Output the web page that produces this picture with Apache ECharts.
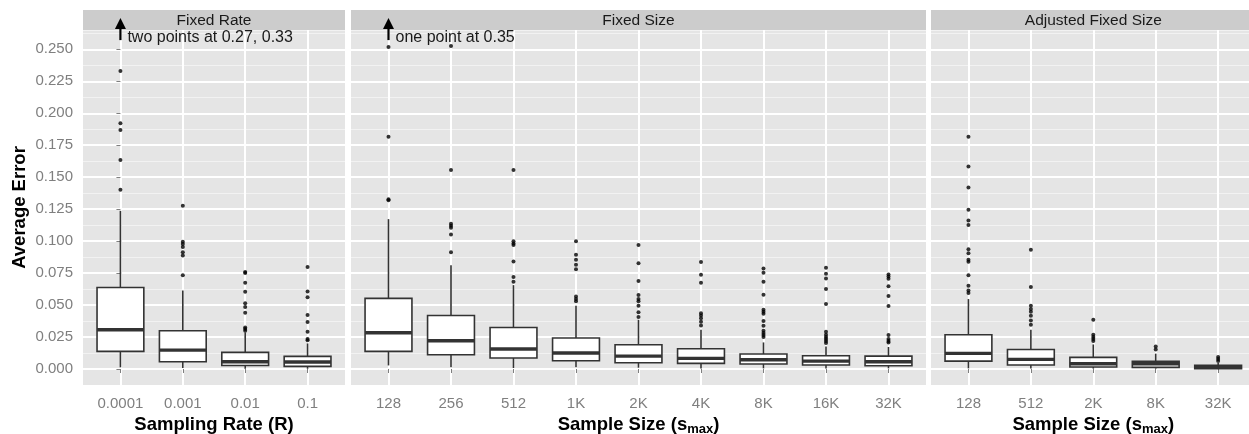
<!DOCTYPE html>
<html>
<head>
<meta charset="utf-8">
<script src="https://cdn.jsdelivr.net/npm/echarts@6/dist/echarts.min.js"></script>
<style>
  html, body { margin: 0; padding: 0; background: #fff; }
  #chart { width: 1249px; height: 434px; }
</style>
</head>
<body>
<div id="chart"></div>
<script>
// facet titles and categories
const panelTitles = ["Fixed Rate", "Fixed Size", "Adjusted Fixed Size"];
const rateCats = ["0.0001", "0.001", "0.01", "0.1"];
const sizeCats = ["128", "256", "512", "1K", "2K", "4K", "8K", "16K", "32K"];
const adjCats = ["128", "512", "2K", "8K", "32K"];
const yTicks = [0, 0.025, 0.05, 0.075, 0.1, 0.125, 0.15, 0.175, 0.2, 0.225, 0.25];

// boxes: [lower whisker, Q1, median, Q3, upper whisker]
const rateBoxes = [
  [0.0013, 0.0138, 0.0307, 0.0638, 0.1237],
  [0.0008, 0.0057, 0.0148, 0.0299, 0.0614],
  [0.0002, 0.0028, 0.0057, 0.0130, 0.0285],
  [0.0002, 0.0021, 0.0055, 0.0099, 0.0200],
];
const rateOutliers = [
  [0.2330, 0.1922, 0.1870, 0.1635, 0.1401, 0.27, 0.33],
  [0.1276, 0.0995, 0.0977, 0.0955, 0.0914, 0.0888, 0.0734],
  [0.0758, 0.0750, 0.0674, 0.0604, 0.0515, 0.0484, 0.0440, 0.0325, 0.0312, 0.0299],
  [0.0797, 0.0606, 0.0562, 0.0422, 0.0367, 0.0291, 0.0234, 0.0224],
];

const sizeBoxes = [
  [0.0028, 0.0138, 0.0284, 0.0552, 0.1172],
  [0.0013, 0.0112, 0.0221, 0.0419, 0.0812],
  [0.0008, 0.0086, 0.0156, 0.0325, 0.0656],
  [0.0013, 0.0065, 0.0125, 0.0242, 0.0495],
  [0.0010, 0.0049, 0.0101, 0.0190, 0.0385],
  [0.0005, 0.0044, 0.0083, 0.0159, 0.0307],
  [0.0005, 0.0039, 0.0073, 0.0117, 0.0208],
  [0.0005, 0.0031, 0.0062, 0.0104, 0.0177],
  [0.0005, 0.0026, 0.0057, 0.0101, 0.0172],
];
const sizeOutliers = [
  [0.35, 0.2518, 0.1817, 0.1328, 0.1320],
  [0.2526, 0.1557, 0.1135, 0.1120, 0.1104, 0.1052, 0.0914],
  [0.1557, 0.1000, 0.0982, 0.0969, 0.0841, 0.0719, 0.0682],
  [0.1000, 0.0893, 0.0854, 0.0815, 0.0781, 0.0567, 0.0547, 0.0529],
  [0.0969, 0.0828, 0.0688, 0.0578, 0.0547, 0.0529, 0.0495, 0.0443, 0.0406],
  [0.0836, 0.0737, 0.0674, 0.0437, 0.0419, 0.0396, 0.0370, 0.0341],
  [0.0786, 0.0752, 0.0682, 0.0580, 0.0463, 0.0448, 0.0432, 0.0375, 0.0339, 0.0299, 0.0281, 0.0266, 0.0250],
  [0.0791, 0.0744, 0.0708, 0.0625, 0.0508, 0.0291, 0.0268, 0.0250, 0.0234, 0.0219, 0.0203],
  [0.0739, 0.0724, 0.0706, 0.0648, 0.0570, 0.0492, 0.0266, 0.0234, 0.0219, 0.0208],
];

const adjBoxes = [
  [0.0005, 0.0062, 0.0122, 0.0268, 0.0547],
  [0.0005, 0.0031, 0.0075, 0.0153, 0.0307],
  [0.0003, 0.0016, 0.0041, 0.0091, 0.0192],
  [0.0003, 0.0013, 0.0041, 0.0060, 0.0120],
  [0.0001, 0.0003, 0.0016, 0.0029, 0.0047],
];
const adjOutliers = [
  [0.1817, 0.1583, 0.1419, 0.1245, 0.1161, 0.1127, 0.0937, 0.0906, 0.0854, 0.0838, 0.0734, 0.0651, 0.0614, 0.0594],
  [0.0932, 0.0641, 0.0495, 0.0469, 0.0448, 0.0417, 0.0380, 0.0346],
  [0.0385, 0.0268, 0.0250, 0.0234, 0.0219],
  [0.0177, 0.0153],
  [0.0094, 0.0078, 0.0062],
];

// off-scale notes: [category index, arrow foot, arrow tip, text]
const notes = [
  [[0, 0.2572, 0.2745, "two points at 0.27, 0.33"]],
  [[0, 0.2572, 0.2745, "one point at 0.35"]],
  [],
];

const FONT = "Liberation Sans, Arial, Helvetica, sans-serif";
const TOP = 30;
const HEIGHT = 355;
const Y_MIN = -0.0125;
const Y_MAX = 0.2651;

const panels = [
  { cats: rateCats, boxes: rateBoxes, outliers: rateOutliers, left: 83, width: 262,
    name: "Sampling Rate (R)" },
  { cats: sizeCats, boxes: sizeBoxes, outliers: sizeOutliers, left: 351, width: 575,
    name: "Sample Size (s{sub|max})" },
  { cats: adjCats, boxes: adjBoxes, outliers: adjOutliers, left: 931, width: 324.6,
    name: "Sample Size (s{sub|max})" },
];

const chart = echarts.init(document.getElementById("chart"));

const grid = [];
const xAxis = [];
const yAxis = [];
const series = [];
const graphic = [];

panels.forEach((p, g) => {
  const n = p.cats.length;
  const idx = p.cats.map((_, i) => i);

  grid.push({
    left: p.left, top: TOP, width: p.width, height: HEIGHT,
    outerBoundsMode: "none", containLabel: false,
    show: true, backgroundColor: "#E5E5E5", borderWidth: 0,
  });

  xAxis.push({
    type: "value", gridIndex: g, min: -0.6, max: n - 0.4,
    name: p.name, nameLocation: "middle", nameGap: 28,
    nameTextStyle: {
      fontFamily: FONT, fontSize: 18.5, fontWeight: "bold", color: "#000",
      rich: { sub: { fontFamily: FONT, fontSize: 13, fontWeight: "bold", color: "#000", verticalAlign: "bottom", padding: [9, 0, 0, 0] } },
    },
    axisLine: { show: false },
    axisTick: { show: true, length: 4, customValues: idx, lineStyle: { color: "#7F7F7F", width: 1 } },
    axisLabel: {
      customValues: idx, margin: 11, color: "#7F7F7F", fontFamily: FONT, fontSize: 15,
      formatter: (v) => p.cats[Math.round(v)],
    },
    splitLine: { show: true, lineStyle: { color: "#FFFFFF", width: 2 } },
  });

  // major y axis
  yAxis.push({
    type: "value", gridIndex: g, min: Y_MIN, max: Y_MAX,
    name: g === 0 ? "Average Error" : "", nameLocation: "middle", nameGap: 54,
    nameTextStyle: { fontFamily: FONT, fontSize: 18.5, fontWeight: "bold", color: "#000" },
    axisLine: { show: false },
    axisTick: { show: g === 0, length: 4, customValues: yTicks, lineStyle: { color: "#7F7F7F", width: 1 } },
    axisLabel: {
      show: g === 0, customValues: yTicks, margin: 10, color: "#7F7F7F", fontFamily: FONT, fontSize: 15,
      formatter: (v) => v.toFixed(3),
    },
    splitLine: { show: true, lineStyle: { color: "#FFFFFF", width: 2 } },
  });
  // minor grid lines
  yAxis.push({
    type: "value", gridIndex: g, min: Y_MIN, max: Y_MAX, interval: 0.025,
    axisLine: { show: false }, axisTick: { show: false }, axisLabel: { show: false },
    splitLine: { show: true, showMinLine: false, lineStyle: { color: "#F2F2F2", width: 1 } },
  });

  series.push({
    type: "custom", xAxisIndex: g, yAxisIndex: g * 2, clip: true, z: 3,
    data: p.boxes.map((b, i) => [i, ...b]),
    renderItem: (params, api) => {
      const x = api.value(0);
      const half = api.size([0.75, 0])[0] / 2;
      const lo = api.coord([x, api.value(1)]);
      const q1 = api.coord([x, api.value(2)]);
      const md = api.coord([x, api.value(3)]);
      const q3 = api.coord([x, api.value(4)]);
      const hi = api.coord([x, api.value(5)]);
      const stroke = { stroke: "#333333", lineWidth: 1.6 };
      return {
        type: "group",
        children: [
          { type: "line", shape: { x1: lo[0], y1: lo[1], x2: q1[0], y2: q1[1] }, style: stroke },
          { type: "line", shape: { x1: q3[0], y1: q3[1], x2: hi[0], y2: hi[1] }, style: stroke },
          { type: "rect", shape: { x: q3[0] - half, y: q3[1], width: half * 2, height: q1[1] - q3[1] },
            style: { fill: "#FFFFFF", stroke: "#333333", lineWidth: 1.6 } },
          { type: "line", shape: { x1: md[0] - half, y1: md[1], x2: md[0] + half, y2: md[1] },
            style: { stroke: "#333333", lineWidth: 3.4 } },
        ],
      };
    },
  });

  series.push({
    type: "scatter", xAxisIndex: g, yAxisIndex: g * 2, clip: true, z: 4,
    symbolSize: 4, itemStyle: { color: "#000" }, silent: true,
    data: p.outliers.flatMap((vals, i) => vals.map((v) => [i, v])),
  });

  series.push({
    type: "custom", xAxisIndex: g, yAxisIndex: g * 2, clip: false, z: 6,
    data: notes[g].map((a) => [a[0], a[1], a[2], a[3]]),
    renderItem: (params, api) => {
      const x = api.value(0);
      const foot = api.coord([x, api.value(1)]);
      const tip = api.coord([x, api.value(2)]);
      const label = notes[g][params.dataIndex][3];
      return {
        type: "group",
        children: [
          { type: "line", shape: { x1: foot[0], y1: foot[1], x2: tip[0], y2: tip[1] + 8 },
            style: { stroke: "#000", lineWidth: 2.2 } },
          { type: "polygon", shape: { points: [[tip[0], tip[1]], [tip[0] - 5.5, tip[1] + 11], [tip[0] + 5.5, tip[1] + 11]] },
            style: { fill: "#000" } },
          { type: "text", x: foot[0] + 7, y: foot[1] - 2.5,
            style: { text: label, fill: "#1A1A1A", font: "16px " + FONT, verticalAlign: "middle", align: "left" } },
        ],
      };
    },
  });

  // facet strip
  graphic.push({
    type: "rect", left: p.left, top: 10, z: 1,
    shape: { width: p.width, height: 20 }, style: { fill: "#CCCCCC" },
  });
  graphic.push({
    type: "text", x: p.left + p.width / 2, y: 20.5, z: 2,
    style: { text: panelTitles[g], fill: "#1A1A1A", font: "15.5px " + FONT, align: "center", verticalAlign: "middle" },
  });
});

chart.setOption({
  animation: false,
  backgroundColor: "#FFFFFF",
  grid,
  xAxis,
  yAxis,
  series,
  graphic,
});
</script>
</body>
</html>
